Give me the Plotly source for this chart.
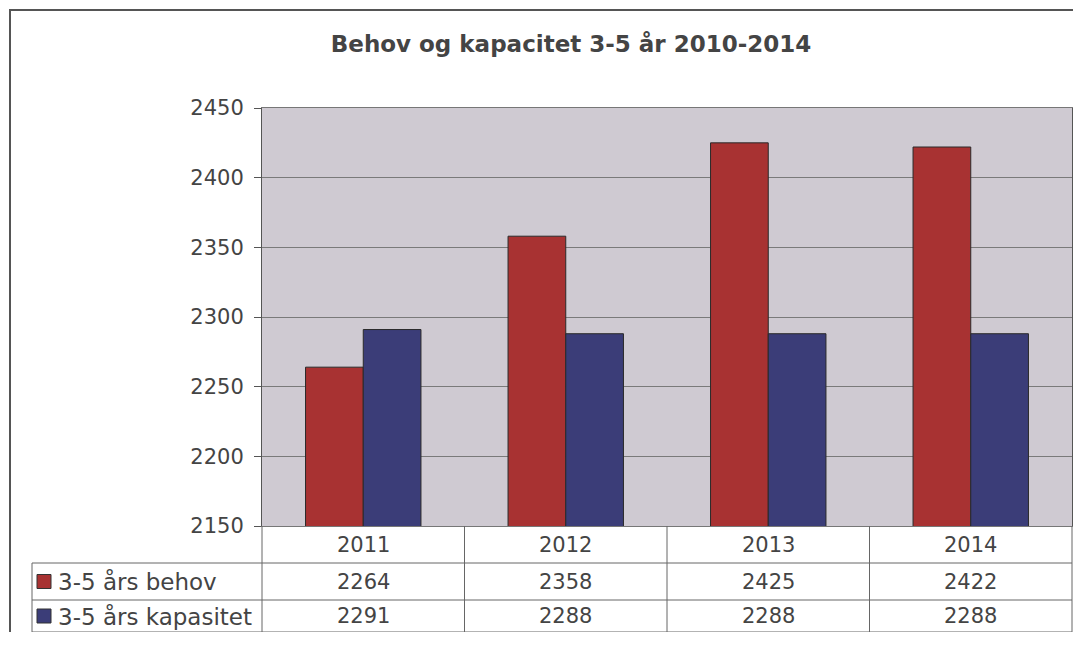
import plotly.graph_objects as go

years = ["2011", "2012", "2013", "2014"]
behov = [2264, 2358, 2425, 2422]
kapasitet = [2291, 2288, 2288, 2288]
series_names = ["3-5 års behov", "3-5 års kapasitet"]
colors = ["#A83232", "#3B3D78"]
title = "Behov og kapacitet 3-5 år 2010-2014"

OFF = 8  # page body margin
W, H = 1081 - 2 * OFF, 646 - 2 * OFF - 6
FONT = "Verdana, DejaVu Sans, sans-serif"
TXT = "#444444"


def px(x):
    return (x - OFF) / W


def py(y):
    return 1 - (y - OFF) / H


fig = go.Figure()
for name, vals, col in zip(series_names, [behov, kapasitet], colors):
    fig.add_trace(go.Bar(x=years, y=vals, name=name, marker_color=col,
                         marker_line=dict(color="#2a2a2a", width=1)))

x0, x1 = 262, 1072
top, bot = 108, 526
rows = [526, 563, 600, 632]

shapes = []
# outer frame
shapes.append(dict(type="rect", xref="paper", yref="paper", x0=px(10), x1=px(1100),
                   y0=py(10), y1=py(680), line=dict(color="#555", width=2)))
# table lines
line = dict(color="#666", width=1)
for y in rows[1:]:
    shapes.append(dict(type="line", xref="paper", yref="paper", x0=px(32), x1=px(x1),
                       y0=py(y), y1=py(y), line=line))
cw = (x1 - x0) / len(years)
for i in range(len(years) + 1):
    xx = x0 + i * cw
    shapes.append(dict(type="line", xref="paper", yref="paper", x0=px(xx), x1=px(xx),
                       y0=py(rows[0]), y1=py(rows[-1]), line=line))
shapes.append(dict(type="line", xref="paper", yref="paper", x0=px(32), x1=px(32),
                   y0=py(rows[1]), y1=py(rows[-1]), line=line))

# data table text, placed on the category axis (index positions)
annotations = []
for j, yr in enumerate(years):
    annotations.append(dict(x=j, xref="x", y=py((rows[0] + rows[1]) / 2), yref="paper",
                            yanchor="middle", text=yr, showarrow=False,
                            font=dict(size=21, color=TXT)))
    for r, vals in enumerate([behov, kapasitet]):
        yc = (rows[r + 1] + rows[r + 2]) / 2
        annotations.append(dict(x=j, xref="x", y=py(yc), yref="paper", yanchor="middle",
                                text=str(vals[j]), showarrow=False,
                                font=dict(size=21, color=TXT)))
for r, (name, col) in enumerate(zip(series_names, colors)):
    yc = (rows[r + 1] + rows[r + 2]) / 2
    shapes.append(dict(type="rect", xref="paper", yref="paper", x0=px(37), x1=px(51),
                       y0=py(yc + 7), y1=py(yc - 7), fillcolor=col,
                       line=dict(color="#333", width=1)))
    annotations.append(dict(x=px(56), xref="paper", y=py(yc), yref="paper",
                            text=name, showarrow=False, xanchor="left", yanchor="middle",
                            font=dict(size=23, color=TXT)))

fig.update_layout(
    width=W, height=H, margin=dict(l=0, r=0, t=0, b=0, autoexpand=False),
    paper_bgcolor="white", plot_bgcolor="#CFCAD2",
    font=dict(family=FONT, size=21, color=TXT),
    title=dict(text="<b>" + title + "</b>", x=px(571), xanchor="center",
               y=py(44), yanchor="middle", font=dict(size=23, color=TXT)),
    barmode="group", bargap=0.43, bargroupgap=0,
    showlegend=False, shapes=shapes, annotations=annotations,
    xaxis=dict(type="category", range=[-0.5, len(years) - 0.5],
               domain=[px(x0), px(x1)], showticklabels=False,
               showgrid=False, showline=True, linecolor="#777", mirror=True,
               ticks="", automargin=False),
    yaxis=dict(domain=[py(bot), py(top)], range=[2150, 2450], dtick=50,
               showgrid=True, gridcolor="#7a7a7a", gridwidth=1,
               showline=True, linecolor="#555", mirror=True,
               ticks="outside", ticklen=7, tickcolor="#555", ticklabelstandoff=6,
               tickfont=dict(size=21, color=TXT), zeroline=False, automargin=False),
)

fig.write_html("out.html")
